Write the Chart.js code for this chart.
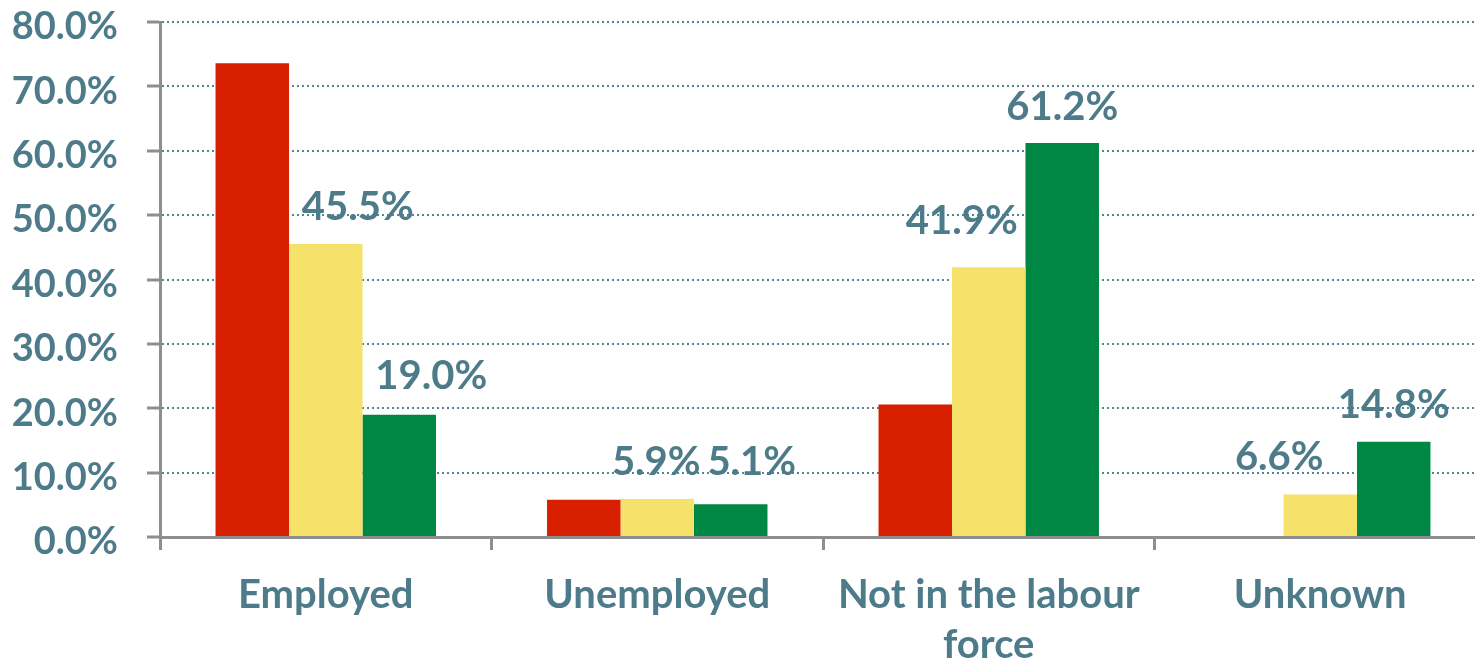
<!DOCTYPE html>
<html><head><meta charset="utf-8">
<script src="https://cdn.jsdelivr.net/npm/chart.js@4.4.0/dist/chart.umd.min.js"></script>
<style>
html,body{margin:0;padding:0;background:#fff;overflow:hidden;}
#wrap{width:1486px;height:660px;position:relative;}
</style></head>
<body><div id="wrap"><canvas id="c"></canvas></div>
<script>
const categories = ['Employed', 'Unemployed', ['Not in the labour', 'force'], 'Unknown'];
const seriesRed = [73.6, 5.8, 20.6, null];
const seriesYellow = [45.5, 5.9, 41.9, 6.6];
const seriesGreen = [19.0, 5.1, 61.2, 14.8];
const yTickValues = [0, 10, 20, 30, 40, 50, 60, 70, 80];

// label placement (pixel nudges relative to each bar's top centre), style only
const labelNudgeYellow = [[32, -37], [-1, -37], [-27, -46], [-41, -37]];
const labelNudgeGreen = [[32, -39], [21, -42], [0, -36], [0, -37]];

const TEXT = '#4d7b8a';
const AXIS = '#8e8e8e';
const FONT = 'Lato';

const labelPlugin = {
  id: 'barLabels',
  afterDatasetsDraw(chart) {
    const ctx = chart.ctx;
    chart.data.datasets.forEach((ds, i) => {
      if (!ds.labelNudge) return;
      const meta = chart.getDatasetMeta(i);
      meta.data.forEach((bar, j) => {
        const v = ds.data[j];
        if (v == null) return;
        const [dx, dy] = ds.labelNudge[j];
        ctx.save();
        ctx.font = 'bold 40px ' + FONT;
        ctx.fillStyle = TEXT;
        ctx.textAlign = 'center';
        ctx.textBaseline = 'middle';
        ctx.fillText(v.toFixed(1) + '%', bar.x + dx, bar.y + dy);
        ctx.restore();
      });
    });
  }
};

new Chart(document.getElementById('c'), {
  type: 'bar',
  data: {
    labels: categories,
    datasets: [
      { data: seriesRed, backgroundColor: '#d82000' },
      { data: seriesYellow, backgroundColor: '#f6e26b', labelNudge: labelNudgeYellow },
      { data: seriesGreen, backgroundColor: '#008744', labelNudge: labelNudgeGreen }
    ]
  },
  options: {
    responsive: true,
    maintainAspectRatio: false,
    animation: false,
    layout: { padding: { top: 0, left: 0, right: 0, bottom: 0 } },
    datasets: { bar: { barPercentage: 1, categoryPercentage: 0.665 } },
    plugins: { legend: { display: false }, tooltip: { enabled: false } },
    scales: {
      y: {
        min: 0, max: 80,
        afterBuildTicks: s => { s.ticks = yTickValues.map(v => ({ value: v })); },
        afterFit: s => { s.width = 160; s.paddingTop = 22; s.paddingBottom = 0; },
        ticks: {
          color: TEXT, padding: 29, labelOffset: 5,
          font: { family: FONT, size: 38, weight: 'bold' },
          callback: v => v.toFixed(1) + '%'
        },
        grid: { color: '#4f8595', lineWidth: 2, tickLength: 13, tickColor: AXIS, tickWidth: 3 },
        border: { color: AXIS, width: 3, dash: [2, 3] }
      },
      x: {
        afterFit: s => { s.height = 123; },
        ticks: {
          color: TEXT, padding: 20,
          font: { family: FONT, size: 40, weight: 'bold', lineHeight: 1.25 }
        },
        grid: { drawOnChartArea: false, offset: true, tickLength: 13, tickColor: AXIS, tickWidth: 3 },
        border: { color: AXIS, width: 3 }
      }
    }
  },
  plugins: [labelPlugin]
});
</script>
</body></html>
